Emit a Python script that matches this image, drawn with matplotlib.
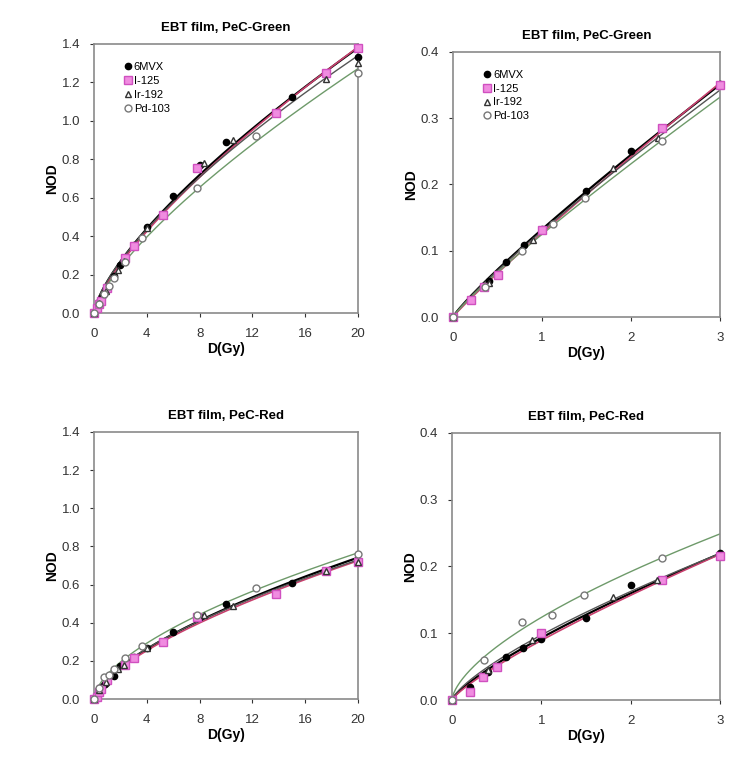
import numpy as np
import matplotlib
matplotlib.use("Agg")
import matplotlib.pyplot as plt

plt.rcParams['font.family'] = ['Liberation Sans', 'DejaVu Sans']

# Dose points (Gy) per source
dose_6mv = [0, 0.2, 0.4, 0.6, 0.8, 1.0, 1.5, 2.0, 3.0, 4.0, 6.0, 8.0, 10.0, 15.0, 20.0]
dose_i125 = [0, 0.2, 0.35, 0.5, 1.0, 2.35, 3.0, 5.2, 7.8, 13.8, 17.6, 20.0]
dose_ir192 = [0, 0.4, 0.9, 1.8, 2.3, 4.0, 8.3, 10.5, 17.6, 20.0]
dose_pd103 = [0, 0.36, 0.78, 1.12, 1.48, 2.35, 3.6, 7.8, 12.3, 20.0]

# Net optical density, green channel
nod_green_6mv = [0, 0.027, 0.055, 0.083, 0.108, 0.133, 0.19, 0.25, 0.352, 0.45, 0.61, 0.77, 0.89, 1.125, 1.33]
nod_green_i125 = [0, 0.025, 0.045, 0.063, 0.131, 0.285, 0.35, 0.51, 0.755, 1.04, 1.25, 1.38]
nod_green_ir192 = [0, 0.052, 0.116, 0.225, 0.27, 0.44, 0.78, 0.90, 1.22, 1.30]
nod_green_pd103 = [0, 0.045, 0.10, 0.14, 0.18, 0.265, 0.39, 0.65, 0.92, 1.25]

# Net optical density, red channel
nod_red_6mv = [0, 0.02, 0.042, 0.064, 0.078, 0.092, 0.123, 0.172, 0.22, 0.27, 0.35, 0.43, 0.50, 0.61, 0.72]
nod_red_i125 = [0, 0.012, 0.035, 0.05, 0.10, 0.18, 0.215, 0.30, 0.43, 0.55, 0.67, 0.72]
nod_red_ir192 = [0, 0.045, 0.09, 0.155, 0.18, 0.27, 0.44, 0.49, 0.67, 0.72]
nod_red_pd103 = [0, 0.06, 0.117, 0.127, 0.157, 0.213, 0.28, 0.44, 0.58, 0.76]

labels = ["6MVX", "I-125", "Ir-192", "Pd-103"]

# marker / line styles per source
styles = [
    dict(marker='o', mfc='black', mec='black', ms=4.5, line='black', lw=1.6),
    dict(marker='s', mfc='#f08ce0', mec='#d050c0', ms=6, line='#c8406e', lw=1.2),
    dict(marker='^', mfc='white', mec='#333333', ms=5, line='#555555', lw=1.0),
    dict(marker='o', mfc='white', mec='#777777', ms=5, line='#6e9a6a', lw=1.0),
]

fig = plt.figure(figsize=(7.43, 7.70), dpi=100)
ax_gl = fig.add_axes([0.1265, 0.5935, 0.3553, 0.3494])
ax_gr = fig.add_axes([0.6097, 0.5883, 0.3593, 0.3442])
ax_rl = fig.add_axes([0.1265, 0.0922, 0.3553, 0.3468])
ax_rr = fig.add_axes([0.6083, 0.0909, 0.3607, 0.3468])

doses = [dose_6mv, dose_i125, dose_ir192, dose_pd103]
green = [nod_green_6mv, nod_green_i125, nod_green_ir192, nod_green_pd103]
red = [nod_red_6mv, nod_red_i125, nod_red_ir192, nod_red_pd103]


def fit_power(d, v):
    # power-law trend line NOD = a * D^b, least squares on NOD itself
    best = None
    for b in np.linspace(0.3, 1.3, 501):
        db = d ** b
        a = np.sum(v * db) / np.sum(db * db)
        err = np.sum((a * db - v) ** 2)
        if best is None or err < best[0]:
            best = (err, a, b)
    _, a, b = best
    return lambda x: a * x ** b


def draw(ax, series, dmax, title, ymax, xticks, yticks, legend):
    for d, v, st, lab in zip(doses, series, styles, labels):
        d = np.array(d, dtype=float)
        v = np.array(v, dtype=float)
        sel = d <= dmax * 1.35
        f = fit_power(d[sel], v[sel])
        xs = np.linspace(0, dmax, 300)
        ax.plot(xs, f(xs), color=st['line'], lw=st['lw'], zorder=2)
        keep = d <= dmax
        ax.plot(d[keep], v[keep], ls='none', marker=st['marker'], mfc=st['mfc'],
                mec=st['mec'], ms=st['ms'], mew=1.0, zorder=3, label=lab, clip_on=False)
    ax.set_xlim(0, dmax)
    ax.set_ylim(0, ymax)
    ax.set_xticks(xticks)
    ax.set_yticks(yticks)
    ax.set_yticklabels([f"{t:.1f}" for t in yticks])
    ax.set_title(title, fontsize=9.5, fontweight='bold', pad=9)
    ax.set_xlabel("D(Gy)", fontsize=10, fontweight='bold', labelpad=1)
    ax.set_ylabel("NOD", fontsize=10, fontweight='bold', labelpad=2)
    ax.tick_params(labelsize=9.5, colors='#333333', length=3, width=0.8)
    ax.tick_params(axis='x', pad=8)
    ax.tick_params(axis='y', pad=7)
    for s in ax.spines.values():
        s.set_color('#8a8a8a')
        s.set_linewidth(1.2)
    if legend:
        ax.legend(loc='upper left', bbox_to_anchor=(0.1, 0.95), frameon=False,
                  fontsize=8, handlelength=0.6, handletextpad=0.2,
                  labelspacing=0.35, borderaxespad=0)


draw(ax_gl, green, 20, "EBT film, PeC-Green", 1.4, [0, 4, 8, 12, 16, 20],
     [0.0, 0.2, 0.4, 0.6, 0.8, 1.0, 1.2, 1.4], True)
draw(ax_gr, green, 3, "EBT film, PeC-Green", 0.4, [0, 1, 2, 3],
     [0.0, 0.1, 0.2, 0.3, 0.4], True)
draw(ax_rl, red, 20, "EBT film, PeC-Red", 1.4, [0, 4, 8, 12, 16, 20],
     [0.0, 0.2, 0.4, 0.6, 0.8, 1.0, 1.2, 1.4], False)
draw(ax_rr, red, 3, "EBT film, PeC-Red", 0.4, [0, 1, 2, 3],
     [0.0, 0.1, 0.2, 0.3, 0.4], False)

fig.savefig("out.png", dpi=100)
